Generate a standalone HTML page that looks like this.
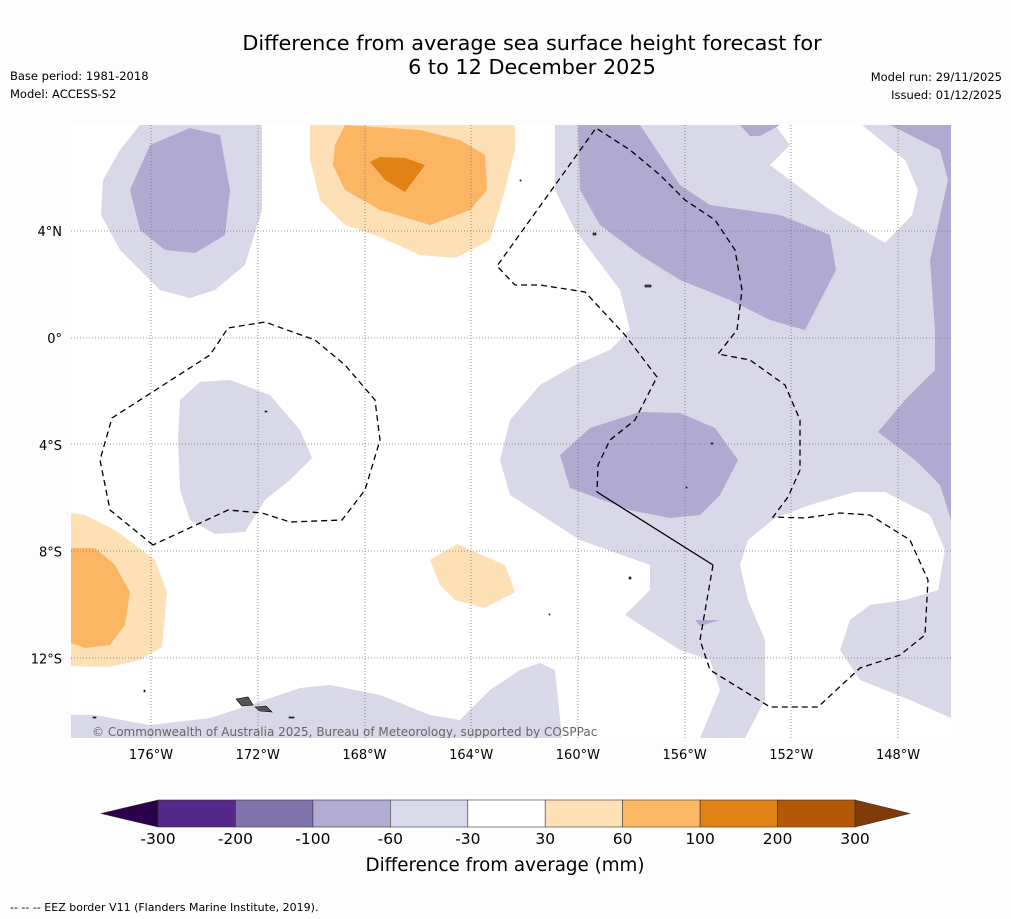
<!DOCTYPE html>
<html><head><meta charset="utf-8"><style>
body{margin:0;background:#fdfdfd;font-family:"Liberation Sans","DejaVu Sans",sans-serif}
svg{display:block}
</style></head><body>
<svg width="1011" height="919" viewBox="0 0 1011 919" font-family="DejaVu Sans, Liberation Sans, sans-serif">
<rect width="1011" height="919" fill="#fdfdfd"/>
<text x="532" y="50" text-anchor="middle" font-size="20.8" fill="#000">Difference from average sea surface height forecast for</text>
<text x="532" y="74" text-anchor="middle" font-size="20.8" fill="#000">6 to 12 December 2025</text>
<text x="10" y="80" font-size="11.5">Base period: 1981-2018</text>
<text x="10" y="98" font-size="11.5">Model: ACCESS-S2</text>
<text x="1002" y="81" font-size="11.5" text-anchor="end">Model run: 29/11/2025</text>
<text x="1002" y="99" font-size="11.5" text-anchor="end">Issued: 01/12/2025</text>
<defs><clipPath id="mc"><rect x="71" y="125" width="880" height="613"/></clipPath></defs>
<g clip-path="url(#mc)">
<rect x="71" y="125" width="880" height="613" fill="#fff"/>
<g fill="#d8d8e9">
<path d="M140,125 L262,125 L262,210 L245,265 L215,290 L190,298 L160,290 L120,250 L101,215 L103,180 L120,150 Z"/>
<path d="M555,125 L951,125 L951,738 L700,738 L720,690 L710,660 L680,650 L625,615 L650,590 L650,565 L580,540 L510,495 L500,460 L510,420 L540,385 L575,365 L610,350 L630,330 L620,290 L575,230 L555,190 Z"/>
<path d="M180,400 L200,382 L230,380 L270,395 L300,430 L312,458 L290,480 L265,500 L245,532 L215,534 L190,520 L180,490 L178,440 Z"/>
<path d="M71,715 L95,715 L150,725 L210,718 L250,705 L300,688 L330,685 L380,695 L430,715 L460,720 L490,690 L520,670 L540,663 L555,670 L562,738 L71,738 Z"/>
</g>
<g fill="#fff">
<path d="M775,125 L862,125 L905,160 L918,190 L912,215 L885,243 L830,210 L770,165 L790,145 Z"/>
<path d="M745,738 L765,700 L765,640 L748,600 L740,565 L748,540 L775,518 L810,505 L855,492 L885,492 L930,515 L945,550 L938,590 L905,600 L870,605 L850,620 L840,650 L860,680 L910,700 L951,718 L951,738 Z"/>
</g>
<g fill="#b0a9d0">
<path d="M130,190 L150,145 L190,128 L220,135 L230,190 L225,235 L195,253 L165,250 L140,230 Z"/>
<path d="M578,125 L640,125 L680,185 L710,205 L780,215 L830,235 L836,270 L805,330 L770,320 L730,300 L680,280 L640,255 L600,225 L580,190 Z"/>
<path d="M740,125 L780,125 L760,136 L750,136 Z"/>
<path d="M890,125 L951,125 L951,520 L940,485 L915,460 L878,432 L905,400 L935,370 L935,330 L930,260 L948,180 L940,150 Z"/>
<path d="M560,455 L590,428 L640,412 L680,413 L715,428 L738,460 L720,495 L700,515 L670,518 L630,510 L570,488 Z"/>
<path d="M695,620 L720,620 L700,626 Z"/>
</g>
<g>
<path fill="#fde0b6" d="M310,125 L515,125 L515,150 L505,190 L490,240 L455,258 L420,255 L380,237 L345,225 L320,200 L310,160 Z"/>
<path fill="#fbb563" d="M345,125 L420,130 L460,140 L485,155 L487,190 L470,210 L430,225 L380,210 L345,190 L333,165 L335,145 Z"/>
<path fill="#e08214" d="M370,162 L380,157 L405,158 L425,165 L405,192 L385,180 Z"/>
<path fill="#fde0b6" d="M71,513 L85,515 L115,530 L155,560 L167,592 L162,647 L140,660 L110,667 L71,666 Z"/>
<path fill="#fbb563" d="M71,548 L95,548 L115,565 L130,592 L125,625 L110,645 L85,648 L71,643 Z"/>
<path fill="#fde0b6" d="M430,560 L457,544 L505,565 L515,592 L485,608 L455,600 L440,585 Z"/>
</g>
<g stroke="#777" stroke-width="0.8" stroke-dasharray="1,2">
<line x1="151" y1="125" x2="151" y2="738"/><line x1="258" y1="125" x2="258" y2="738"/><line x1="365" y1="125" x2="365" y2="738"/><line x1="471" y1="125" x2="471" y2="738"/><line x1="578" y1="125" x2="578" y2="738"/><line x1="685" y1="125" x2="685" y2="738"/><line x1="791" y1="125" x2="791" y2="738"/><line x1="898" y1="125" x2="898" y2="738"/>
<line x1="71" y1="231" x2="951" y2="231"/><line x1="71" y1="338" x2="951" y2="338"/><line x1="71" y1="444" x2="951" y2="444"/><line x1="71" y1="551" x2="951" y2="551"/><line x1="71" y1="658" x2="951" y2="658"/>
</g>
<g fill="none" stroke="#000" stroke-width="1.3" stroke-dasharray="6,4">
<path d="M153,545 L110,510 L100,460 L112,418 L210,355 L228,328 L265,322 L315,340 L345,365 L375,400 L380,440 L365,490 L342,520 L290,522 L262,513 L228,510 Z"/>
<path d="M713,565 L700,640 L710,670 L770,707 L818,707 L860,668 L900,655 L925,635 L928,580 L910,540 L870,515 L840,513 L805,518 L773,517 L788,497 L800,470 L800,420 L785,385 L750,360 L718,354 L737,330 L742,290 L735,250 L715,220 L685,200 L660,175 L630,150 L596,128 L497,266 L515,285 L540,285 L585,292 L625,335 L657,377 L635,420 L610,440 L598,465 L597,492"/>
</g>
<path d="M597,492 L713,565" stroke="#000" stroke-width="1.3" fill="none"/>
<g fill="#555" stroke="#000" stroke-width="0.6">
<path d="M236,699 L248,697 L253,705 L242,706 Z"/><path d="M255,707 L266,706 L272,712 L260,711 Z"/>
<rect x="645" y="285" width="6" height="2"/><rect x="593" y="233" width="3" height="2"/>
<rect x="289" y="717" width="5" height="1"/><rect x="265" y="411" width="2" height="1"/><rect x="711" y="443" width="2" height="1"/><rect x="686" y="487" width="1" height="1"/><rect x="629" y="577" width="2" height="2"/><rect x="549" y="614" width="1" height="1"/><rect x="144" y="690" width="1" height="2"/><rect x="93" y="717" width="3" height="1"/><rect x="520" y="180" width="1" height="1"/>
</g>
<text x="92" y="736" font-size="12" fill="#666">© Commonwealth of Australia 2025, Bureau of Meteorology, supported by COSPPac</text>
</g>
<g font-size="13" fill="#000" id="axl"></g>
<g id="cbar"></g>
<text x="505" y="871" text-anchor="middle" font-size="18.3">Difference from average (mm)</text>
<text x="10" y="911" font-size="11">--  --  -- EEZ border V11 (Flanders Marine Institute, 2019).</text>
</svg>
<script>
const lonLabels=["176°W","172°W","168°W","164°W","160°W","156°W","152°W","148°W"];
const lonValues=[-176,-172,-168,-164,-160,-156,-152,-148];
const latLabels=["4°N","0°","4°S","8°S","12°S"];
const latValues=[4,0,-4,-8,-12];
const levels=[-300,-200,-100,-60,-30,30,60,100,200,300];
const colors=["#542788","#8073ac","#b2abd2","#d8daeb","#ffffff","#fee0b6","#fdb863","#e08214","#b35806"];
const NS="http://www.w3.org/2000/svg";
const lonX=v=>151+(v+176)*26.68, latY=v=>338-v*26.7;
const axl=document.getElementById('axl');
lonValues.forEach((v,i)=>{const t=document.createElementNS(NS,'text');


t.setAttribute('x',lonX(v));t.setAttribute('y',759);t.setAttribute('text-anchor','middle');t.textContent=lonLabels[i];axl.appendChild(t);});
latValues.forEach((v,i)=>{const t=document.createElementNS(NS,'text');


t.setAttribute('x',62);t.setAttribute('y',latY(v)+5);t.setAttribute('text-anchor','end');t.textContent=latLabels[i];axl.appendChild(t);});
const cb=document.getElementById('cbar');
const x0=158,x1=855,w=(x1-x0)/colors.length;
colors.forEach((c,i)=>{const r=document.createElementNS(NS,'rect');


r.setAttribute('x',x0+i*w);r.setAttribute('y',800);r.setAttribute('width',w);r.setAttribute('height',27);r.setAttribute('fill',c);r.setAttribute('stroke','#333');r.setAttribute('stroke-width','0.6');cb.appendChild(r);});
[[`M${x0},800 L101,813.5 L${x0},827 Z`,"#2d004b"],[`M${x1},800 L910,813.5 L${x1},827 Z`,"#7f3b08"]].forEach(([d,c])=>{const p=document.createElementNS(NS,'path');


p.setAttribute('d',d);p.setAttribute('fill',c);p.setAttribute('stroke','#333');p.setAttribute('stroke-width','0.6');cb.appendChild(p);});
levels.forEach((v,i)=>{const t=document.createElementNS(NS,'text');


t.setAttribute('x',x0+i*w);t.setAttribute('y',844);t.setAttribute('text-anchor','middle');t.setAttribute('font-size','15.5');t.textContent=v;cb.appendChild(t);});
</script>
</body></html>
